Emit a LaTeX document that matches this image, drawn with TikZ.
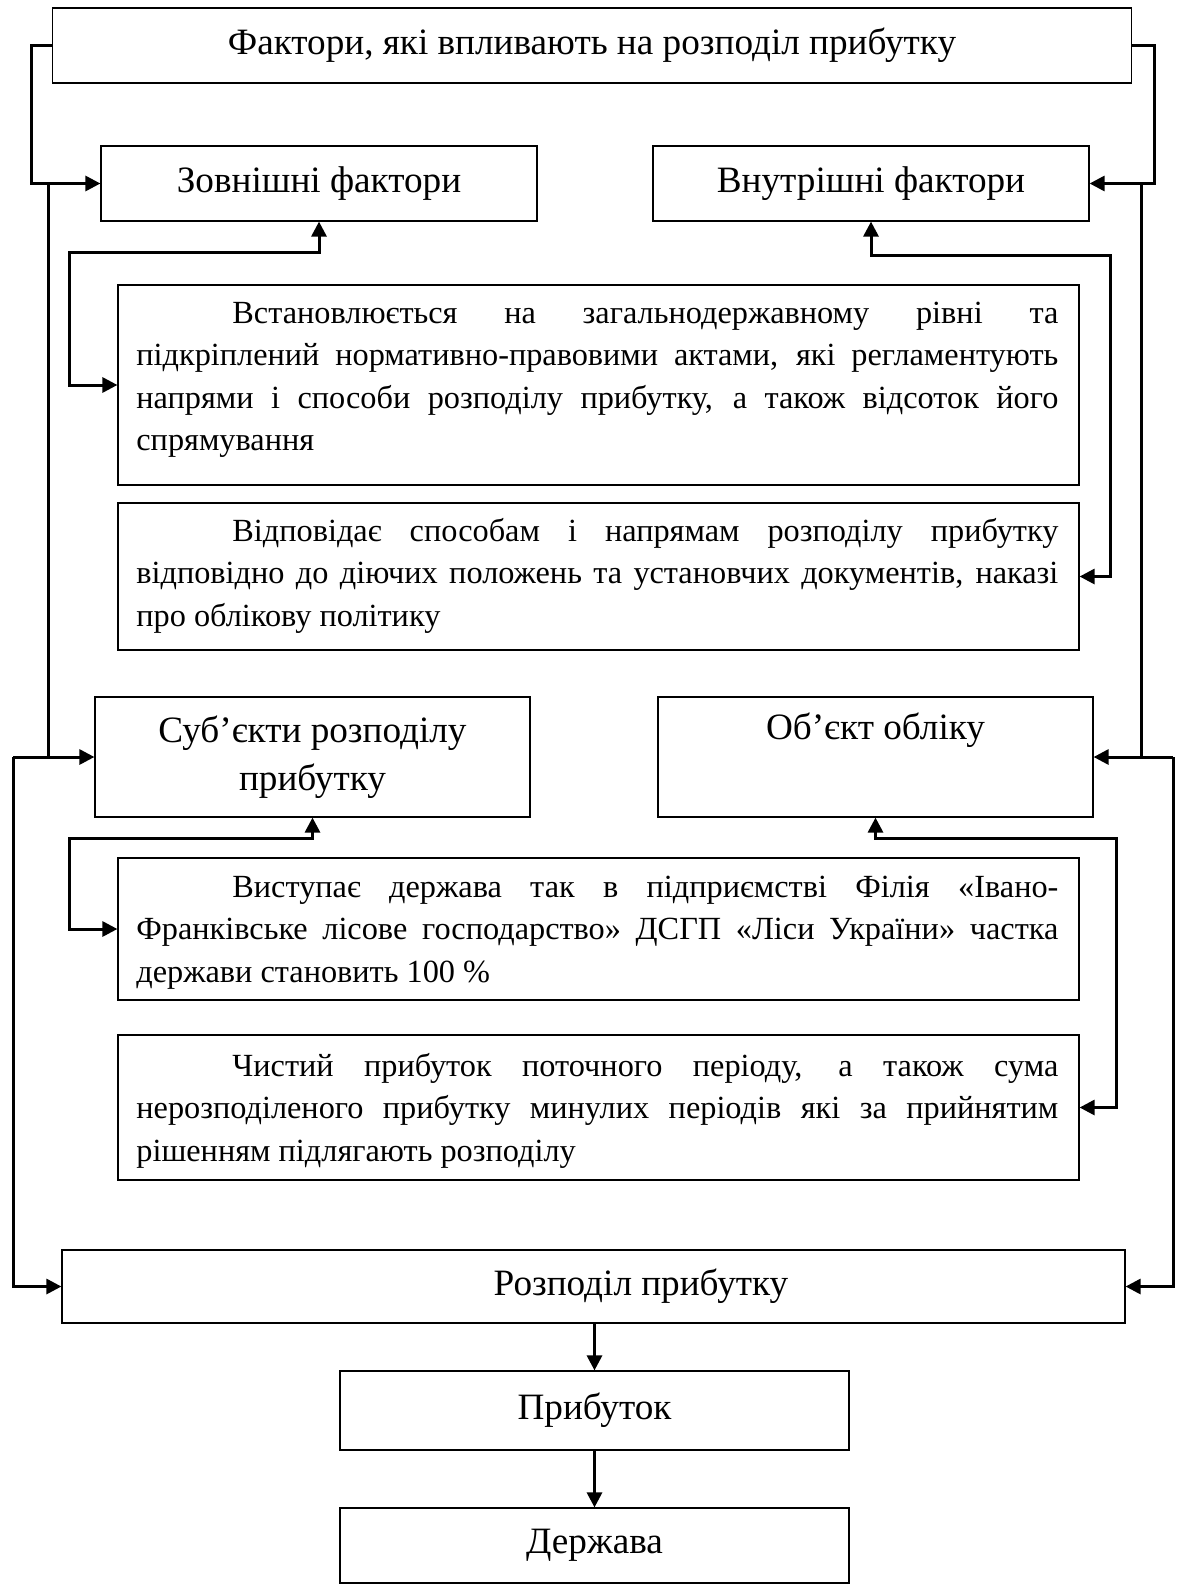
\documentclass[tikz,border=0pt]{standalone}
\usepackage{fontspec}
\setmainfont{Liberation Serif}
\usetikzlibrary{arrows.meta}
\newcommand{\bodyfnt}{\fontsize{16.15pt}{21.2pt}\selectfont\tolerance=10000\hbadness=10000\hyphenpenalty=10000\exhyphenpenalty=10000}
\newcommand{\ttlfnt}{\fontsize{18.6pt}{24pt}\selectfont}
\begin{document}
\begin{tikzpicture}[x=0.5pt,y=-0.5pt,
  box/.style={draw, line width=0.6pt, inner sep=0pt, align=center, font=\ttlfnt},
  para/.style={anchor=north west, inner sep=0pt, text width=461pt, align=justify, font=\bodyfnt},
  wire/.style={line width=1.5pt},
  conn/.style={wire, -{Triangle[length=7.5pt,width=7.5pt]}},
  both/.style={wire, {Triangle[length=7.5pt,width=7.5pt]}-{Triangle[length=7.5pt,width=7.5pt]}}]
\useasboundingbox (0,0) rectangle (1182,1584);

% boxes
\node[box, minimum width=539.5pt, minimum height=37.5pt] (top) at (592,45.5) {Фактори, які впливають на розподіл прибутку};
\node[box, minimum width=218pt, minimum height=37.5pt] (zovn) at (319,183.5) {Зовнішні фактори};
\node[box, minimum width=218pt, minimum height=37.5pt] (vnutr) at (871,183.5) {Внутрішні фактори};
\node[box, minimum width=480.5pt, minimum height=100pt] (t1) at (598.5,385) {};
\node[box, minimum width=480.5pt, minimum height=73.5pt] (t2) at (598.5,576.5) {};
\node[box, minimum width=217.5pt, minimum height=60pt] (sub) at (312.5,757) {Суб’єкти розподілу\\прибутку};
\node[box, minimum width=217.5pt, minimum height=60pt] (obj) at (875.5,757) {Об’єкт обліку\\\strut};
\node[box, minimum width=480.5pt, minimum height=71pt] (t3) at (598.5,929) {};
\node[box, minimum width=480.5pt, minimum height=72.5pt] (t4) at (598.5,1107.5) {};
\node[box, minimum width=531.5pt, minimum height=36.5pt] (rozp) at (593.5,1286.5) {\hspace*{47.5pt}Розподіл прибутку};
\node[box, minimum width=254.5pt, minimum height=39.5pt] (prib) at (594.5,1410.5) {Прибуток};
\node[box, minimum width=254.5pt, minimum height=37.5pt] (derzh) at (594.5,1545.5) {Держава};

% paragraph texts
\node[para] (p1) at (136,293.3) {\noindent\strut\hspace*{48pt}Встановлюється на загальнодержавному рівні та\linebreak підкріплений нормативно-правовими актами, які регламентують\linebreak напрями і способи розподілу прибутку, а також відсоток його\linebreak спрямування};
\node[para] (p2) at (136,511.3) {\noindent\strut\hspace*{48pt}Відповідає способам і напрямам розподілу прибутку\linebreak відповідно до діючих положень та установчих документів, наказі\linebreak про облікову політику};
\node[para] (p3) at (136,867.3) {\noindent\strut\hspace*{48pt}Виступає держава так в підприємстві Філія «Івано-\linebreak Франківське лісове господарство» ДСГП «Ліси України»  частка\linebreak держави становить 100 \%};
\node[para] (p4) at (136,1046.3) {\noindent\strut\hspace*{48pt}Чистий прибуток поточного періоду, а також  сума\linebreak нерозподіленого прибутку минулих періодів які за прийнятим\linebreak рішенням підлягають розподілу};

% outer left connectors
\coordinate (jL) at (48,183.5);
\coordinate (jL2) at (13,757);
\draw[conn] (top.west) -- ++(-20.5,0) |- (zovn.west);
\draw[conn] (jL) |- (sub.west);
\draw[wire] (jL2) -- (jL |- sub.west);
\draw[conn] (jL2) |- (rozp.west);

% outer right connectors
\coordinate (jR) at (1141,183.5);
\coordinate (jR2) at (1173,757);
\draw[conn] (top.east) -- ++(22.5,0) |- (vnutr.east);
\draw[conn] (jR) |- (obj.east);
\draw[wire] (jR2) -- (jR |- obj.east);
\draw[conn] (jR2) |- (rozp.east);

% inner connectors
\coordinate (a1) at (69,252);
\coordinate (a2) at (1110,255);
\coordinate (a3) at (69,838);
\coordinate (a4) at (1116,838);
\draw[both] (zovn.south) |- (a1) |- (t1.west);
\draw[both] (vnutr.south) |- (a2) |- (t2.east);
\draw[both] (sub.south) |- (a3) |- (t3.west);
\draw[both] (obj.south) |- (a4) |- (t4.east);

% bottom chain
\draw[conn] (prib.north |- rozp.south) -- (prib.north);
\draw[conn] (prib.south) -- (derzh.north);
\end{tikzpicture}
\end{document}
